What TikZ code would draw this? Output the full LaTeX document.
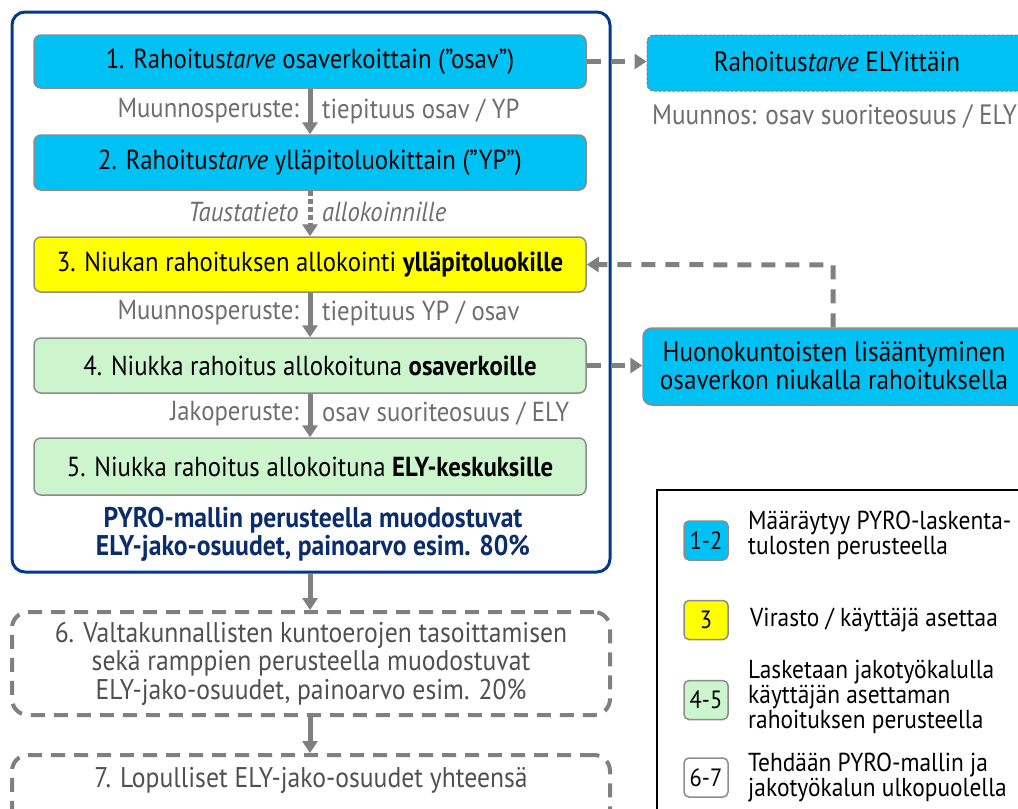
\documentclass[tikz,border=0pt]{standalone}
\usepackage{fontspec}
\setmainfont[FakeStretch=0.9]{PT Sans}
\usetikzlibrary{arrows.meta}
\definecolor{cyanbox}{RGB}{0,193,243}
\definecolor{yellowbox}{RGB}{255,255,0}
\definecolor{greenbox}{RGB}{204,245,206}
\definecolor{boxborder}{RGB}{140,140,140}
\definecolor{arrowgray}{RGB}{128,128,128}
\definecolor{labelgray}{RGB}{110,110,110}
\definecolor{darkgraytext}{RGB}{80,80,80}
\definecolor{outerblue}{RGB}{0,58,140}
\definecolor{textblue}{RGB}{11,45,107}
\tikzset{
  mainfont/.style={font=\fontsize{27.5}{30}\selectfont},
  stagebox/.style={draw=boxborder, line width=1.5pt, rounded corners=7pt, minimum width=552pt, minimum height=55pt, mainfont, inner sep=0pt},
  lbl/.style={text=labelgray, font=\fontsize{27.5}{30}\selectfont, inner sep=0pt},
  flowarrow/.style={draw=arrowgray, line width=5pt, -{Triangle[length=12pt,width=15pt]}},
  dasharrow/.style={draw=arrowgray, line width=5pt, dash pattern=on 14pt off 10pt, -{Triangle[length=12pt,width=15pt]}},
  dashbox/.style={draw=arrowgray, line width=4pt, dash pattern=on 14pt off 9pt, rounded corners=16pt, minimum width=598pt, text=darkgraytext, mainfont, align=center, inner sep=0pt},
  legbox/.style={draw=boxborder, line width=1.5pt, rounded corners=5pt, minimum width=44pt, minimum height=39pt, font=\fontsize{25}{26}\selectfont, inner sep=0pt},
  legtext/.style={anchor=west, align=left, font=\fontsize{26}{25}\selectfont, inner sep=0pt},
}
\begin{document}
\begin{tikzpicture}[x=1pt,y=-1pt]
\useasboundingbox (0,0) rectangle (1018,809);
\clip (0,0) rectangle (1018,809);
\fill[white] (0,0) rectangle (1018,809);

% outer frame
\node[draw=outerblue, line width=3pt, rounded corners=13pt, minimum width=598pt, minimum height=560pt, inner sep=0pt] (outer) at (311,292) {};

% stage boxes
\node[stagebox, fill=cyanbox, minimum height=53pt] (b1) at (310,61.5) {1. Rahoitus\textit{tarve} osaverkoittain (”osav”)};
\node[stagebox, fill=cyanbox] (b2) at (310,162.5) {2. Rahoitus\textit{tarve} ylläpitoluokittain (”YP”)};
\node[stagebox, fill=yellowbox] (b3) at (310,264.5) {3. Niukan rahoituksen allokointi \textbf{ylläpitoluokille}};
\node[stagebox, fill=greenbox] (b4) at (310,365.5) {4. Niukka rahoitus allokoituna \textbf{osaverkoille}};
\node[stagebox, fill=greenbox, minimum height=57pt] (b5) at (310,466.5) {5. Niukka rahoitus allokoituna \textbf{ELY-keskuksille}};

% arrows inside
\draw[flowarrow] (b1.south) -- (b2.north);
\draw[draw=arrowgray, line width=5pt, dash pattern=on 5pt off 3pt, -{Triangle[length=12pt,width=15pt]}] (b2.south) -- (b3.north);
\draw[flowarrow] (b3.south) -- (b4.north);
\draw[flowarrow] (b4.south) -- (b5.north);

% labels
\node[lbl, anchor=east] (l1a) at (299,111) {Muunnosperuste:};
\node[lbl, anchor=west] (l1b) at (322,111) {tiepituus osav / YP};
\node[lbl, anchor=east] (l2a) at (299,212) {\textit{Taustatieto}};
\node[lbl, anchor=west] (l2b) at (322,212) {\textit{allokoinnille}};
\node[lbl, anchor=east] (l3a) at (299,313) {Muunnosperuste:};
\node[lbl, anchor=west] (l3b) at (322,313) {tiepituus YP / osav};
\node[lbl, anchor=east] (l4a) at (299,414) {Jakoperuste:};
\node[lbl, anchor=west] (l4b) at (322,414) {osav suoriteosuus / ELY};

\node[text=textblue, align=center, font=\bfseries\fontsize{28.5}{28}\selectfont, inner sep=0pt] (pyro) at (313,534) {PYRO-mallin perusteella muodostuvat\\ELY-jako-osuudet, painoarvo esim. 80\%};

% lower boxes
\node[dashbox, minimum height=103pt, font=\fontsize{28.5}{28.5}\selectfont] (b6) at (311,663.5) {6. Valtakunnallisten kuntoerojen tasoittamisen\\sekä ramppien perusteella muodostuvat\\ELY-jako-osuudet, painoarvo esim. 20\%};
\node[dashbox, minimum height=74pt] (b7) at (311,792) {};
\node[text=darkgraytext, font=\fontsize{28.5}{30}\selectfont, inner sep=0pt] (b7t) at (311,780) {7. Lopulliset ELY-jako-osuudet yhteensä};

\draw[flowarrow] (outer.south -| b1.south) -- (b6.north -| b1.south);
\draw[flowarrow] (b6.south -| b1.south) -- (b7.north -| b1.south);

% right side
\node[draw=arrowgray, line width=1pt, dash pattern=on 3pt off 1.5pt, rounded corners=7pt, fill=cyanbox, minimum width=382pt, minimum height=56pt, inner sep=0pt] (r1) at (838,63) {};
\node[font=\fontsize{28}{30}\selectfont, inner sep=0pt] (r1t) at (837,62) {Rahoitus\textit{tarve} ELYittäin};
\node[text=labelgray, font=\fontsize{28}{30}\selectfont, inner sep=0pt, anchor=west] (r1l) at (652,116) {Muunnos: osav suoriteosuus / ELY};
\draw[dasharrow] (b1.east) -- (b1.east -| r1.west);

\node[draw=boxborder, line width=1.5pt, rounded corners=9pt, fill=cyanbox, minimum width=386pt, minimum height=77pt, inner sep=0pt] (r2) at (836,366.5) {};
\node[align=center, inner sep=0pt, font=\fontsize{28}{28}\selectfont] (r2t) at (834,366) {Huonokuntoisten lisääntyminen\\osaverkon niukalla rahoituksella};
\draw[dasharrow] (b4.east) -- (b4.east -| r2.west);
\coordinate (fbk) at (833,265);
\draw[dasharrow] (r2.north -| fbk) -- (fbk) -- (b3.east);

% legend
\draw[black, line width=2pt] (657,490) rectangle (1030,830);
\node[legbox, fill=cyanbox] (g1) at (706,540.5) {1-2};
\node[legbox, fill=yellowbox] (g2) at (706,620) {3};
\node[legbox, fill=greenbox] (g3) at (706,700) {4-5};
\node[legbox, fill=white] (g4) at (706,777.5) {6-7};
\node[legtext] (g1t) at (748,535.5) {Määräytyy PYRO-laskenta-\\tulosten perusteella};
\node[legtext] (g2t) at (750,620) {Virasto / käyttäjä asettaa};
\node[legtext] (g3t) at (748,697) {Lasketaan jakotyökalulla\\käyttäjän asettaman\\rahoituksen perusteella};
\node[legtext] (g4t) at (748,777) {Tehdään PYRO-mallin ja\\jakotyökalun ulkopuolella};
\end{tikzpicture}
\end{document}
